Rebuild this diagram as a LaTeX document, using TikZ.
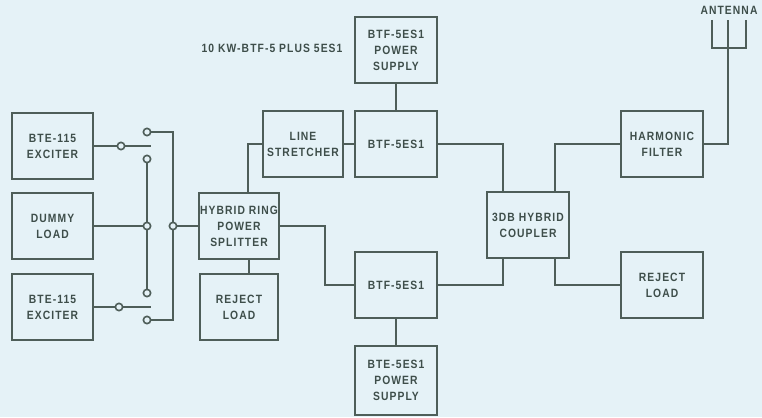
\documentclass[tikz,border=0pt]{standalone}
\usepackage{fontspec}
\setmainfont{Liberation Sans}
\newfontfamily\blkfont[FakeStretch=0.86, LetterSpace=9]{Liberation Sans}
\usetikzlibrary{positioning}

\definecolor{wirecol}{HTML}{4E5E59}
\definecolor{paper}{HTML}{E5F2F7}
\definecolor{ink}{HTML}{3E4E4A}

\tikzset{
  blk/.style={draw=wirecol, line width=1.5pt, minimum width=61pt, minimum height=49.5pt,
    align=center, inner sep=1pt, text=ink, font=\blkfont\fontsize{9}{12}\selectfont\bfseries},
  term/.style={circle, draw=wirecol, line width=1.2pt, fill=paper, minimum size=5.5pt, inner sep=0pt},
  conn/.style={draw=wirecol, line width=1.5pt}
}

\begin{document}
\begin{tikzpicture}[x=0.75pt, y=-0.75pt]
    % Background
    \fill[paper] (0,0) rectangle (762,417);

    % Title
    \node[text=ink, font=\blkfont\fontsize{9}{10}\selectfont\bfseries] (title) at (272,48) {10 KW-BTF-5 PLUS 5ES1};

    % Boxes
    \node[blk] (exA) at (52.5,146) {BTE-115\\EXCITER};
    \node[blk] (dummy) at (52.5,226) {DUMMY\\LOAD};
    \node[blk] (exB) at (52.5,307) {BTE-115\\EXCITER};
    \node[blk, minimum width=58.5pt] (split) at (239,226) {HYBRID RING\\POWER\\SPLITTER};
    \node[blk, minimum width=58.5pt] (rejA) at (239,307) {REJECT\\LOAD};
    \node[blk, minimum width=60pt] (ls) at (303,144) {LINE\\STRETCHER};
    \node[blk] (btfA) at (396,144) {BTF-5ES1};
    \node[blk] (psA) at (396,50) {BTF-5ES1\\POWER\\SUPPLY};
    \node[blk] (btfB) at (396,285) {BTF-5ES1};
    \node[blk, minimum height=51.75pt] (psB) at (396,380) {BTE-5ES1\\POWER\\SUPPLY};
    \node[blk] (coup) at (528,225) {3DB HYBRID\\COUPLER};
    \node[blk] (filt) at (662,144) {HARMONIC\\FILTER};
    \node[blk] (rejB) at (662,285) {REJECT\\LOAD};

    % Switch contacts
    \node[term] (cA) at (121,146) {};
    \node[term] (cB) at (119,307) {};
    \node[term] (t1) at (147,132) {};
    \node[term] (t2) at (147,159) {};
    \node[term] (j1) at (147,226) {};
    \node[term] (t3) at (147,293) {};
    \node[term] (t4) at (147,320) {};
    \node[term] (j2) at (173,226) {};
    \coordinate (bladeA) at (151,146);
    \coordinate (bladeB) at (151,307);

    % Switch wiring
    \draw[conn] (exA) -- (cA) -- (bladeA);
    \draw[conn] (exB) -- (cB) -- (bladeB);
    \draw[conn] (t2) -- (j1) -- (t3);
    \draw[conn] (dummy) -- (j1);
    \draw[conn] (t1) -| (j2);
    \draw[conn] (j2) |- (t4);
    \draw[conn] (j2) -- (split);

    % Amplifier chains
    \coordinate (bendS) at (325,226);
    \draw[conn] ([xshift=6.75pt]split.north) |- (ls);
    \draw[conn] ([xshift=7.5pt]split.south) -- ([xshift=7.5pt]rejA.north);
    \draw[conn] (ls) -- (btfA);
    \draw[conn] (psA) -- (btfA);
    \draw[conn] (split) -- (bendS) |- (btfB);
    \draw[conn] (psB) -- (btfB);
    \draw[conn] (btfA) -| ([xshift=-18.75pt]coup.north);
    \draw[conn] (btfB) -| ([xshift=-18.75pt]coup.south);

    % Output side
    \draw[conn] ([xshift=20.25pt]coup.north) |- (filt);
    \draw[conn] ([xshift=20.25pt]coup.south) |- (rejB);

    % Antenna
    \coordinate (antBase) at (728,48);
    \coordinate (antL) at (712,20);
    \coordinate (antM) at (728,20);
    \coordinate (antR) at (746,20);
    \draw[conn] (filt) -| (antBase);
    \draw[conn, line width=1.3pt] (antL) |- (antBase) -| (antR);
    \draw[conn, line width=1.3pt] (antBase) -- (antM);
    \node[text=ink, font=\blkfont\fontsize{9}{10}\selectfont\bfseries] (antLbl) at (729,10) {ANTENNA};
\end{tikzpicture}
\end{document}
